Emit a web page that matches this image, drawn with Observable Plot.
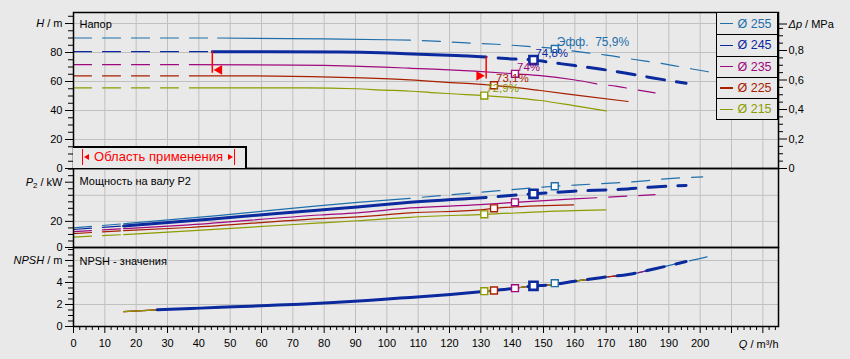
<!DOCTYPE html>
<html><head><meta charset="utf-8">
<script src="https://cdn.jsdelivr.net/npm/d3@7"></script>
<script src="https://cdn.jsdelivr.net/npm/@observablehq/plot@0.6"></script>
<style>
html,body{margin:0;padding:0;background:#e9e9e9;}
#chart{position:relative;width:850px;height:359px;background:#e9e9e9;overflow:hidden;font-family:"Liberation Sans",Arial,sans-serif;}
#chart svg{position:absolute;left:0;top:0;}
#legend{position:absolute;left:716px;top:12px;width:62px;height:108px;box-sizing:border-box;border:1.5px solid #000;background:#e9e9e9;z-index:5;}
#legend .row{position:relative;height:21.3px;box-sizing:border-box;display:flex;align-items:center;}
#legend .row+.row{border-top:1.5px solid #000;}
#legend .sw{width:12.5px;height:1.2px;margin-left:3px;}
#legend .lb{margin-left:5px;font-size:12.5px;white-space:pre;}
#range{position:absolute;left:73px;top:146px;width:174px;height:22px;box-sizing:border-box;border-top:2px solid #000;border-right:2px solid #000;background:#e9e9e9;z-index:5;}
#range .bar{position:absolute;top:1px;width:1.4px;height:15.7px;background:#f00;}
#range .tl{position:absolute;top:5.5px;width:0;height:0;border-top:3px solid transparent;border-bottom:3px solid transparent;border-right:5px solid #f00;}
#range .tr{position:absolute;top:5.5px;width:0;height:0;border-top:3px solid transparent;border-bottom:3px solid transparent;border-left:5px solid #f00;}
#range .tx{position:absolute;top:0px;left:21px;font-size:13px;line-height:17px;color:#f00;white-space:pre;letter-spacing:0.05px;}
</style></head><body><div id="chart"></div>
<script>
// ---------- data ----------
const diameters = ["Ø 255", "Ø 245", "Ø 235", "Ø 225", "Ø 215"];
const colors = ["#1f6fab", "#0b2a9e", "#a0087e", "#a82000", "#8c9c00"];

// head H (m) vs Q (m³/h)
const hQ255 = [0, 46, 80, 100, 107.5, 115, 124, 135, 145, 153.6, 161, 170, 179, 188, 197, 204];
const h255  = [90, 90, 89.4, 88.8, 88.5, 87.9, 86.8, 85.7, 84.2, 82.7, 80.6, 78.2, 75.2, 72.4, 68.8, 66.2];
const hQ245 = [0, 44.3, 85, 98, 106, 115, 122, 131.7, 138, 146.8, 153, 160, 168, 176, 184, 195.5];
const h245  = [80.6, 80.6, 80.4, 79.9, 79.2, 78.5, 78, 76.9, 75.8, 74.8, 73, 71, 68.6, 65.9, 62.8, 58.8];
const hQ235 = [0, 37, 71, 89, 99, 107, 115, 128, 141, 149, 159.6, 167, 173.5, 180, 185.6];
const h235  = [71.6, 71.6, 71.3, 70.6, 69.9, 69.2, 68.5, 67.1, 65.3, 64.1, 61.2, 58.4, 56.6, 54.2, 52.2];
const hQ225 = [0, 37, 55, 79, 92, 101, 109, 117, 128, 134.1, 149, 161.7, 177];
const h225  = [63.9, 63.9, 63.9, 63.2, 62.5, 61.8, 60.9, 59.7, 58.4, 57.4, 53.8, 50.3, 46.2];
const hQ215 = [0, 37, 74, 90, 99, 108, 114, 122, 131.1, 149, 159.6, 170];
const h215  = [55.6, 55.6, 55.6, 55, 54.1, 53.3, 52.4, 51.4, 50.3, 46.9, 43.4, 39.8];

// shaft power P2 (kW) vs Q
const pQ255 = [0, 16, 46, 78.8, 90.6, 107.5, 129.8, 153.7, 160, 179.5, 189, 200.8];
const p255  = [15, 18.2, 24.4, 32.1, 34.6, 37.7, 42.3, 46.9, 47.8, 50.5, 52.6, 54.1];
const pQ245 = [0, 16, 44.3, 78.8, 90.6, 107.5, 131.7, 146.8, 159.6, 175, 184, 195.5];
const p245  = [13.8, 16.5, 21.8, 28.8, 31.1, 34.6, 38.3, 41.1, 43.1, 44.6, 46.2, 47.5];
const pQ235 = [0, 16, 37, 78.8, 90.6, 107.5, 129.8, 140.9, 159.6, 167, 173.5, 185.6];
const p235  = [12.2, 14.4, 17.4, 24.9, 26.5, 30.3, 32.8, 34.6, 37.2, 38.1, 38.9, 40.5];
const pQ225 = [0, 16, 37, 78.8, 90.6, 107.5, 129.8, 134.3, 159.6, 177.2];
const p225  = [10.7, 12.9, 15.3, 22.1, 23.4, 26.5, 28.8, 30, 32.6, 34.1];
const pQ215 = [0, 16, 37, 78.8, 90.6, 107.5, 131.1, 159.6, 169.9];
const p215  = [8, 9.9, 12.8, 18.8, 20.5, 23.1, 25.4, 28.2, 28.8];

// NPSH (m) vs Q, shared by all impellers, each drawn over its own Q range
const npshQ = [16, 26.7, 40.5, 51.1, 61.8, 72.4, 83, 93.7, 104.3, 107.5, 120.3, 131.7, 136.2, 146.8, 152.2, 160, 167, 170, 177, 185.6, 195.5, 199.5, 205];
const npsh  = [1.36, 1.52, 1.67, 1.79, 1.91, 2.03, 2.18, 2.36, 2.58, 2.64, 2.91, 3.2, 3.33, 3.68, 3.79, 4.12, 4.38, 4.5, 4.72, 5.25, 5.9, 6.15, 6.5];
const npshFrom = [26.7, 26.7, 16, 16, 16];
const npshTo   = [205, 195.5, 185.6, 177, 170];

// solid (application) part of each curve
const hSolidFrom = [46, 44.3, 37, 37, 37];
const pSolidFrom = [16, 16, 16, 16, 16];
const solidTo    = [107.5, 131.7, 167, 177, 170];

// best efficiency points
const bepQ = [153.6, 146.8, 140.9, 134.2, 131.1];
const bepH = [82.5, 74.8, 65.3, 57.4, 50.3];
const bepP = [46.9, 41.1, 34.6, 30, 25.4];
const bepN = [3.94, 3.7, 3.48, 3.27, 3.21];
const effLabels = ["Эфф.  75,9%", "74,8%", "74%", "73,1%", "72,9%"];

// range of application markers on Ø 245
const rangeQ = [44.3, 131.7];
const rangeTop = [80.6, 76.9];
const rangeBottom = [65.7, 61.8];
const rangeArrow = [68, 63.9];

// ticks
const qTickLabels = [0, 10, 20, 30, 40, 50, 60, 70, 80, 90, 100, 110, 120, 130, 140, 150, 160, 170, 180, 190, 200];
const qGrid = [10, 20, 30, 40, 50, 60, 70, 80, 90, 100, 110, 120, 130, 140, 150, 160, 170, 180, 190, 200, 210, 220];
const hTickLabels = [0, 20, 40, 60, 80];
const hGrid = [20, 40, 60, 80, 100];
const pTickLabels = [0, 20];
const pGrid = [20, 40];
const nTickLabels = [0, 2, 4];
const nGrid = [2, 4, 6];
const dpTickLabels = [0, 0.2, 0.4, 0.6, 0.8];
const K = 0.00983; // MPa per metre of head

// ---------- helpers ----------
const hSets = [[hQ255, h255], [hQ245, h245], [hQ235, h235], [hQ225, h225], [hQ215, h215]];
const pSets = [[pQ255, p255], [pQ245, p245], [pQ235, p235], [pQ225, p225], [pQ215, p215]];

function segments(qs, vs, from, to, lo = -Infinity, hi = Infinity) {
  const L = [], S = [], R = [];
  qs.forEach((q, j) => {
    if (q < lo || q > hi) return;
    const r = {q, v: vs[j]};
    if (q <= from) L.push(r);
    if (q >= from && q <= to) S.push(r);
    if (q >= to) R.push(r);
  });
  return {L, S, R};
}
const GRID = "#c0c0c0";
const order = [0, 2, 3, 4, 1]; // thick Ø 245 drawn last

function curveMarks(getSeg, thickW = 3, thinW = 1.2) {
  const marks = [];
  for (const i of order) {
    const sg = getSeg(i);
    const w = i === 1 ? thickW : thinW;
    const o = {x: "q", y: "v", stroke: colors[i], strokeWidth: w, curve: "monotone-x"};
    marks.push(Plot.line(sg.L, {...o, strokeWidth: thinW, strokeDasharray: "18,11"}));
    marks.push(Plot.line(sg.S, o));
    marks.push(Plot.line(sg.R, {...o, strokeDasharray: "18,12", strokeDashoffset: 18}));
  }
  return marks;
}
function bepMarks(vals) {
  const marks = [];
  for (const i of order) {
    marks.push(Plot.dot([{q: bepQ[i], v: vals[i]}], {x: "q", y: "v", symbol: "square",
      r: i === 1 ? 4.6 : 3.9, fill: "white", stroke: colors[i], strokeWidth: i === 1 ? 2.6 : 1.4}));
  }
  return marks;
}
const style = {fontFamily: "'Liberation Sans', Arial, sans-serif", fontSize: "11px", color: "black",
  background: "transparent", overflow: "visible"};
const rich = {
  "H / m": [["H", "i"], [" / m"]],
  "P2 / kW": [["P", "i"], ["2", "sub"], [" / kW", "up"]],
  "NPSH / m": [["NPSH", "i"], [" / m"]],
  "Δp / MPa": [["Δp", "i"], [" / MPa"]],
  "Q / m³/h": [["Q", "i"], [" / m³/h"]]
};
function richify(svg) {
  d3.select(svg).selectAll("text").each(function () {
    const spec = rich[this.textContent];
    if (!spec) return;
    const sel = d3.select(this);
    sel.text(null);
    for (const [s, st] of spec) {
      const t = sel.append("tspan").text(s);
      if (st === "i") t.attr("font-style", "italic");
      if (st === "sub") t.attr("font-size", "8px").attr("dy", "2.5");
      if (st === "up") t.attr("dy", "-2.5");
    }
  });
  return svg;
}
const chart = document.getElementById("chart");

// ---------- panel 1 : head ----------
const fmtDp = d => { const p = Math.round(d * K * 10) / 10; return p === 0 ? "0" : p.toFixed(1).replace(".", ","); };
const p1 = Plot.plot({
  width: 850, height: 359, marginLeft: 73, marginRight: 72, marginTop: 12, marginBottom: 191,
  x: {domain: [0, 225], axis: null}, y: {domain: [0, 107.6], axis: null}, style,
  marks: [
    Plot.gridX({ticks: qGrid, stroke: GRID, strokeOpacity: 1}),
    Plot.gridY({ticks: hGrid, stroke: GRID, strokeOpacity: 1}),
    ...curveMarks(i => segments(hSets[i][0], hSets[i][1], hSolidFrom[i], solidTo[i])),
    Plot.ruleX(rangeQ.map((q, j) => ({q, a: rangeTop[j], b: rangeBottom[j]})), {x: "q", y1: "a", y2: "b", stroke: "#ff0000", strokeWidth: 1.5}),
    Plot.dot([{q: rangeQ[0], v: rangeArrow[0]}], {x: "q", y: "v", symbol: "triangle", r: 3.6, fill: "#ff0000", rotate: -90, dx: 7}),
    Plot.dot([{q: rangeQ[1], v: rangeArrow[1]}], {x: "q", y: "v", symbol: "triangle", r: 3.6, fill: "#ff0000", rotate: 90, dx: -7}),
    ...bepMarks(bepH),
    ...order.map(i => Plot.text([{q: bepQ[i], v: bepH[i], t: effLabels[i]}], {x: "q", y: "v", text: "t",
      fill: colors[i], textAnchor: "start", dx: 2, dy: -7, fontSize: i === 0 ? 12 : 11.5})),
    Plot.frame({stroke: "black", strokeWidth: 1.5}),
    Plot.axisY({ticks: [5, 10, 15, 25, 30, 35, 45, 50, 55, 65, 70, 75, 85, 90, 95, 105], tickSize: 5, tickFormat: () => "", label: null}),
    Plot.axisY({ticks: hTickLabels, tickSize: 8, tickPadding: 3, tickFormat: d => String(d), label: null}),
    Plot.axisY({ticks: [100], tickSize: 8, tickPadding: 3, tickFormat: () => "H / m", label: null}),
    Plot.axisY({anchor: "right", ticks: [0.05, 0.1, 0.15, 0.25, 0.3, 0.35, 0.45, 0.5, 0.55, 0.65, 0.7, 0.75, 0.85, 0.9, 0.95].map(p => p / K), tickSize: 4, tickFormat: () => "", label: null}),
    Plot.axisY({anchor: "right", ticks: dpTickLabels.map(p => p / K), tickSize: 8, tickPadding: 2, tickFormat: fmtDp, label: null}),
    Plot.axisY({anchor: "right", ticks: [1 / K], tickSize: 8, tickPadding: 2, tickFormat: () => "Δp / MPa", label: null, dy: 3}),
    Plot.text(["Напор"], {frameAnchor: "top-left", dx: 6, dy: 12.3, lineAnchor: "middle"})
  ]
});
chart.appendChild(richify(p1));

// ---------- panel 2 : shaft power ----------
const p2 = Plot.plot({
  width: 850, height: 359, marginLeft: 73, marginRight: 72, marginTop: 168, marginBottom: 112,
  x: {domain: [0, 225], axis: null}, y: {domain: [0, 60.5], axis: null}, style,
  marks: [
    Plot.gridX({ticks: qGrid, stroke: GRID, strokeOpacity: 1}),
    Plot.gridY({ticks: pGrid, stroke: GRID, strokeOpacity: 1}),
    ...curveMarks(i => segments(pSets[i][0], pSets[i][1], pSolidFrom[i], solidTo[i])),
    ...bepMarks(bepP),
    Plot.frame({stroke: "black", strokeWidth: 1.5}),
    Plot.axisY({ticks: [5, 10, 15, 25, 30, 35, 40, 45, 55, 60], tickSize: 5, tickFormat: () => "", label: null}),
    Plot.axisY({ticks: pTickLabels, tickSize: 8, tickPadding: 3, tickFormat: d => String(d), label: null}),
    Plot.axisY({ticks: [50], tickSize: 8, tickPadding: 3, tickFormat: () => "P2 / kW", label: null}),
    Plot.text(["Мощность на валу P2"], {frameAnchor: "top-left", dx: 6, dy: 13, lineAnchor: "middle"})
  ]
});
chart.appendChild(richify(p2));

// ---------- panel 3 : NPSH ----------
const p3 = Plot.plot({
  width: 850, height: 359, marginLeft: 73, marginRight: 72, marginTop: 247, marginBottom: 33,
  x: {domain: [0, 225], axis: null}, y: {domain: [0, 7.18], axis: null}, style,
  marks: [
    Plot.gridX({ticks: qGrid, stroke: GRID, strokeOpacity: 1}),
    Plot.gridY({ticks: nGrid, stroke: GRID, strokeOpacity: 1}),
    ...curveMarks(i => segments(npshQ, npsh, npshFrom[i], solidTo[i], npshFrom[i], npshTo[i])),
    ...bepMarks(bepN),
    Plot.frame({stroke: "black", strokeWidth: 1.5}),
    Plot.axisY({ticks: [0.5, 1, 1.5, 2.5, 3, 3.5, 4.5, 5, 5.5, 6.5, 7], tickSize: 5, tickFormat: () => "", label: null}),
    Plot.axisY({ticks: nTickLabels, tickSize: 8, tickPadding: 3, tickFormat: d => String(d), label: null}),
    Plot.axisY({ticks: [6], tickSize: 8, tickPadding: 3, tickFormat: () => "NPSH / m", label: null}),
    Plot.axisX({ticks: d3.range(0, 225, 2).filter(d => d % 10 !== 0), tickSize: 4, tickFormat: () => "", label: null}),
    Plot.axisX({ticks: qTickLabels, tickSize: 7, tickPadding: 6, tickFormat: d => String(d), label: null}),
    Plot.axisX({ticks: [210, 220], tickSize: 7, tickFormat: () => "", label: null}),
    Plot.text(["Q / m³/h"], {frameAnchor: "bottom-right", dy: 18, lineAnchor: "middle", textAnchor: "end"}),
    Plot.text(["NPSH - значения"], {frameAnchor: "top-left", dx: 6, dy: 13.7, lineAnchor: "middle"})
  ]
});
chart.appendChild(richify(p3));

// ---------- legend ----------
const lg = document.createElement("div");
lg.id = "legend";
diameters.forEach((d, i) => {
  const row = document.createElement("div");
  row.className = "row";
  row.innerHTML = `<span class="sw" style="background:${colors[i]}"></span><span class="lb" style="color:${colors[i]}">${d}</span>`;
  lg.appendChild(row);
});
chart.appendChild(lg);

// ---------- range of application box ----------
const rb = document.createElement("div");
rb.id = "range";
rb.innerHTML = `<span class="bar" style="left:9px"></span><span class="tl" style="left:11px"></span>` +
  `<span class="tx">Область применения</span>` +
  `<span class="tr" style="left:155px"></span><span class="bar" style="left:161px"></span>`;
chart.appendChild(rb);
</script>
</body></html>
